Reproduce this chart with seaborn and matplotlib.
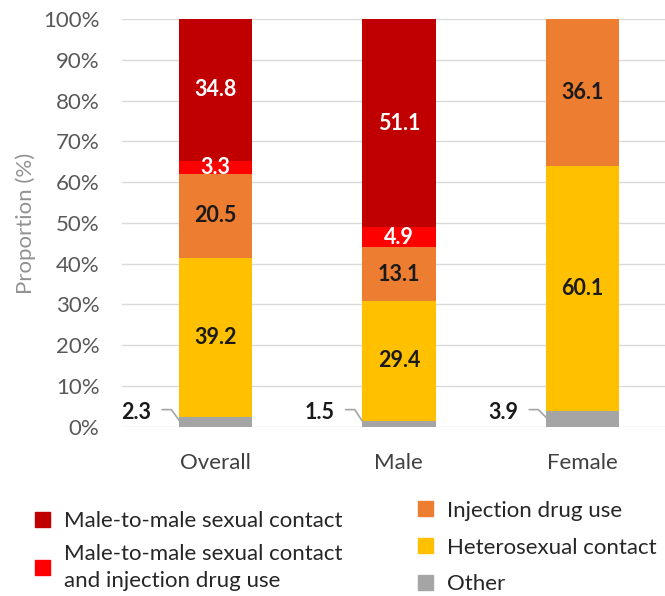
import numpy as np
import pandas as pd
import matplotlib
matplotlib.use("Agg")
import matplotlib.pyplot as plt
import seaborn as sns
from matplotlib.patches import Patch

# data (percent, bottom to top)
groups = ["Overall", "Male", "Female"]
other = [2.3, 1.5, 3.9]
hetero = [39.2, 29.4, 60.1]
idu = [20.5, 13.1, 36.1]
msm_idu = [3.3, 4.9, 0.0]
msm = [34.8, 51.1, 0.0]

layers = [
    ("Other", other, "#A5A5A5", "#1a1a1a"),
    ("Heterosexual contact", hetero, "#FFC000", "#1a1a1a"),
    ("Injection drug use", idu, "#ED7D31", "#1a1a1a"),
    ("Male-to-male sexual contact\nand injection drug use", msm_idu, "#FF0000", "white"),
    ("Male-to-male sexual contact", msm, "#C00000", "white"),
]

sns.set_style("white")
plt.rcParams["font.family"] = ["Lato", "DejaVu Sans"]

fig = plt.figure(figsize=(6.65, 5.96), dpi=100)
ax = fig.add_axes([0.183, 0.284, 0.817, 0.684])

bottom = np.zeros(len(groups))
for name, vals, col, tcol in layers:
    vals = np.array(vals)
    sns.barplot(x=groups, y=vals, bottom=bottom, color=col, width=0.4,
                ax=ax, saturation=1, linewidth=0, zorder=3)
    if name != "Other":
        for i, v in enumerate(vals):
            if v > 0:
                ax.text(i, bottom[i] + v / 2, f"{v:.1f}", ha="center", va="center",
                        fontsize=15.5, fontweight="bold", color=tcol, zorder=4)
    bottom += vals

# labels for "Other" with leader lines
for i, v in enumerate(other):
    ax.plot([i - 0.29, i - 0.24, i - 0.19], [4.2, 4.2, v / 2], color="#A5A5A5",
            lw=1.2, zorder=4, clip_on=False)
    ax.text(i - 0.35, 3.6, f"{v:.1f}", ha="right", va="center", fontsize=15.5,
            fontweight="bold", color="#1a1a1a")

ax.set_ylim(0, 100)
ax.set_xlim(-0.51, 2.45)
ax.set_yticks(np.arange(0, 101, 10))
ax.set_yticklabels([f"{t}%" for t in range(0, 101, 10)])
ax.yaxis.grid(True, color="#D9D9D9", lw=1, zorder=0)
ax.tick_params(axis="y", labelsize=16, labelcolor="#595959", length=0, pad=16)
ax.tick_params(axis="x", labelsize=16, labelcolor="#404040", length=0, pad=19)
for s in ax.spines.values():
    s.set_visible(False)
ax.set_ylabel("Proportion (%)", fontsize=16, color="#929292", labelpad=5)
ax.set_xlabel("")

leg_kw = dict(loc="upper left", frameon=False, fontsize=16, handlelength=0.68,
              handleheight=0.68, borderpad=0, borderaxespad=0)
left_h = [Patch(color="#C00000"), Patch(color="#FF0000")]
left_l = ["Male-to-male sexual contact", "Male-to-male sexual contact\nand injection drug use"]
right_h = [Patch(color="#ED7D31"), Patch(color="#FFC000"), Patch(color="#A5A5A5")]
right_l = ["Injection drug use", "Heterosexual contact", "Other"]
leg1 = fig.legend(left_h, left_l, bbox_to_anchor=(0.053, 0.142), handletextpad=0.6,
                  labelspacing=0.55, **leg_kw)
for t in leg1.get_texts():
    t.set_linespacing(1.45)
fig.legend(right_h, right_l, bbox_to_anchor=(0.629, 0.16), handletextpad=0.62,
           labelspacing=0.76, **leg_kw)

fig.savefig("out.png", dpi=100)
